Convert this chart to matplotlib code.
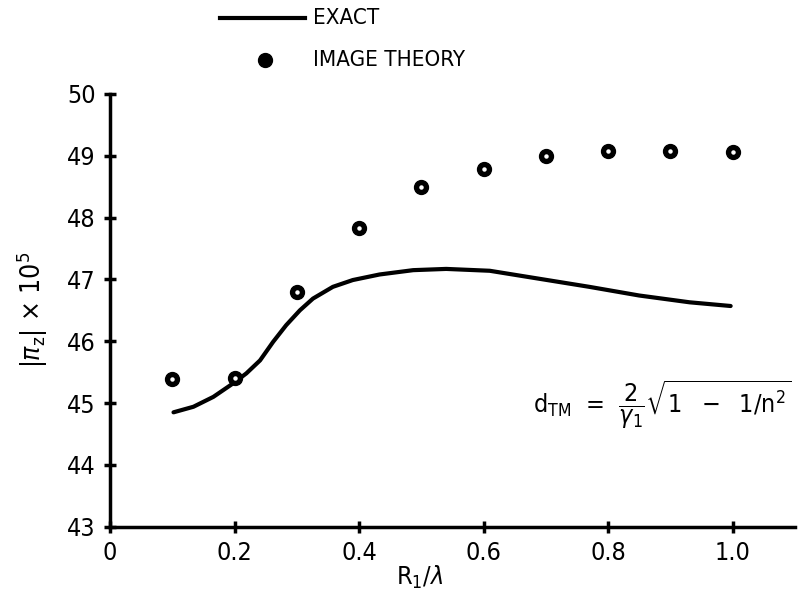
import matplotlib
matplotlib.use("Agg")
import matplotlib.pyplot as plt

plt.rcParams['font.family'] = ['DejaVu Sans']
plt.rcParams['font.stretch'] = 'condensed'
plt.rcParams['mathtext.fontset'] = 'dejavusans'

# Data
exact_x = [0.102, 0.134, 0.166, 0.198, 0.219, 0.241, 0.262, 0.283, 0.305, 0.326,
           0.358, 0.390, 0.433, 0.487, 0.540, 0.610, 0.690, 0.770, 0.850, 0.931, 0.997]
exact_y = [44.85, 44.94, 45.10, 45.32, 45.48, 45.69, 45.99, 46.26, 46.50, 46.69,
           46.88, 46.99, 47.08, 47.15, 47.17, 47.14, 47.01, 46.88, 46.74, 46.63, 46.57]
img_x = [0.1, 0.2, 0.3, 0.4, 0.5, 0.6, 0.7, 0.8, 0.9, 1.0]
img_y = [45.39, 45.40, 46.79, 47.83, 48.50, 48.78, 49.00, 49.07, 49.07, 49.06]
xticks = [0, 0.2, 0.4, 0.6, 0.8, 1.0]
xticklabels = ["0", "0.2", "0.4", "0.6", "0.8", "1.0"]
yticks = [43, 44, 45, 46, 47, 48, 49, 50]

fig = plt.figure(figsize=(7.99, 6.06), dpi=100)
ax = fig.add_axes([0.1377, 0.1309, 0.857, 0.714])
ax.plot(exact_x, exact_y, color='black', lw=3, solid_capstyle='round')
ax.plot(img_x, img_y, 'o', color='black', ms=10, zorder=3)
ax.plot(img_x, img_y, 'o', color='white', ms=2.2, zorder=4)

ax.set_xlim(0, 1.1)
ax.set_ylim(43, 50)
ax.set_xticks(xticks)
ax.set_xticklabels(xticklabels)
ax.set_yticks(yticks)
for s in ['top', 'right']:
    ax.spines[s].set_visible(False)
for s in ['left', 'bottom']:
    ax.spines[s].set_linewidth(2.5)
ax.tick_params(direction='inout', length=9, width=2.5, labelsize=18, pad=6)

ax.set_xlabel(r"R$_1$/$\lambda$", fontsize=18, labelpad=4)
ax.xaxis.set_label_coords(0.4526, -0.085)
ax.set_ylabel(r"|$\pi_{\rm z}$| $\times$ 10$^5$", fontsize=19, labelpad=12)

ax.text(0.679, 44.97,
        r"d$_{\rm TM}$  =  $\dfrac{2}{\gamma_{\rm 1}}\sqrt{\rm 1\ \ -\ \ 1/n^2}$",
        fontsize=18, ha='left', va='center', clip_on=False)

# Legend drawn manually in figure coords
fig.add_artist(plt.Line2D([220/799, 305/799], [1-18/606, 1-18/606], color='black', lw=3))
fig.text(313/799, 1-18/606, "EXACT", fontsize=16, va='center', ha='left')
fig.add_artist(plt.Line2D([265/799], [1-60/606], marker='o', color='black', ms=10))
fig.text(313/799, 1-60/606, "IMAGE THEORY", fontsize=16, va='center', ha='left')

fig.savefig("out.png", dpi=100)
